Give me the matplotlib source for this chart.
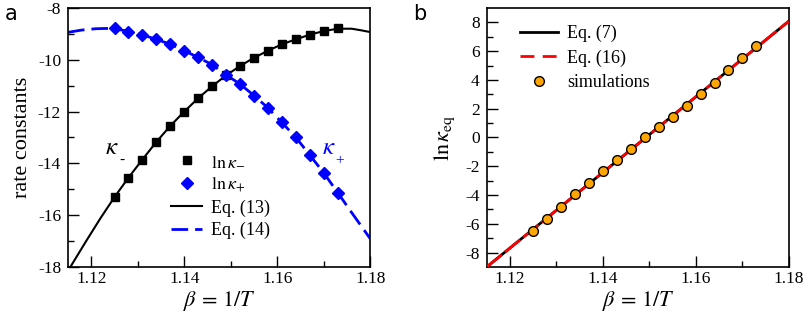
import matplotlib
matplotlib.use("Agg")
import matplotlib.pyplot as plt
from matplotlib.lines import Line2D

plt.rcParams['font.family'] = ['Liberation Serif', 'DejaVu Serif']
plt.rcParams['mathtext.fontset'] = 'stix'
plt.rcParams['axes.unicode_minus'] = False

# ---- data ----
beta_sim = [1.125, 1.128, 1.131, 1.134, 1.137, 1.140, 1.143, 1.146, 1.149,
            1.152, 1.155, 1.158, 1.161, 1.164, 1.167, 1.170, 1.173]
ln_kminus = [-15.30, -14.55, -13.85, -13.17, -12.55, -12.00, -11.48, -11.02, -10.60,
             -10.24, -9.92, -9.65, -9.40, -9.21, -9.03, -8.89, -8.77]
ln_kplus = [-8.76, -8.92, -9.04, -9.21, -9.40, -9.65, -9.91, -10.19, -10.58,
            -10.94, -11.38, -11.86, -12.42, -13.00, -13.68, -14.37, -15.13]

beta_eq13 = [1.1155, 1.119, 1.122, 1.125, 1.128, 1.131, 1.134, 1.137, 1.140, 1.143,
             1.146, 1.149, 1.152, 1.155, 1.158, 1.161, 1.164, 1.167, 1.170, 1.173,
             1.176, 1.178, 1.180]
eq13 = [-18.00, -16.97, -16.11, -15.30, -14.55, -13.85, -13.17, -12.55, -12.00, -11.48,
        -11.02, -10.60, -10.24, -9.92, -9.65, -9.40, -9.21, -9.03, -8.89, -8.80,
        -8.80, -8.86, -8.93]

beta_eq14 = [1.115, 1.118, 1.121, 1.123, 1.125, 1.128, 1.131, 1.134, 1.137, 1.140,
             1.143, 1.146, 1.149, 1.152, 1.155, 1.158, 1.161, 1.164, 1.167, 1.170,
             1.173, 1.176, 1.180]
eq14 = [-8.94, -8.85, -8.80, -8.79, -8.80, -8.90, -9.04, -9.21, -9.40, -9.65,
        -9.91, -10.19, -10.58, -10.94, -11.38, -11.86, -12.42, -13.00, -13.68, -14.37,
        -15.13, -15.90, -16.91]

ln_keq_sim = [-6.49, -5.63, -4.82, -3.96, -3.15, -2.34, -1.55, -0.79, 0.03,
              0.70, 1.42, 2.21, 2.99, 3.80, 4.66, 5.50, 6.36]
beta_line = [1.115, 1.180]
eq7 = [-9.00, 8.09]
eq16 = [-9.00, 8.09]

xticks = [1.12, 1.14, 1.16, 1.18]
yticks_a = [-18, -16, -14, -12, -10, -8]
yticks_b = [-8, -6, -4, -2, 0, 2, 4, 6, 8]

# ---- figure ----
fig = plt.figure(figsize=(8.06, 3.15), dpi=100)
axa = fig.add_axes([0.0844, 0.1524, 0.375, 0.8222])
axb = fig.add_axes([0.6038, 0.1524, 0.375, 0.8222])

tick_fs = 12.5
for ax in (axa, axb):
    ax.set_xlim(1.115, 1.18)
    ax.set_xticks(xticks)
    ax.set_xticks([1.13, 1.15, 1.17], minor=True)
    ax.set_xticklabels(['%.2f' % t for t in xticks])
    ax.tick_params(which='both', direction='in', top=False, right=False,
                   labelsize=tick_fs, width=1.0)
    ax.tick_params(axis='x', which='both', pad=3)
    ax.tick_params(axis='y', which='both', pad=5)
    ax.tick_params(which='major', length=8)
    ax.tick_params(which='minor', length=4)
    for s in ax.spines.values():
        s.set_linewidth(1.2)
    ax.set_xlabel(r'$\beta\,=\,1/T$', fontsize=16, labelpad=1)

# panel a
axa.plot(beta_eq13, eq13, color='black', lw=1.5, zorder=2)
axa.plot(beta_eq14, eq14, color='blue', lw=2.0, dashes=(6, 2.5), zorder=2)
axa.plot(beta_sim, ln_kminus, ls='none', marker='s', ms=6.0, color='black', zorder=3)
axa.plot(beta_sim, ln_kplus, ls='none', marker='D', ms=6.0, color='blue', zorder=3)
axa.set_ylim(-18, -8)
axa.set_yticks(yticks_a)
axa.set_yticks([-17, -15, -13, -11, -9], minor=True)
axa.set_yticklabels([str(t) for t in yticks_a])
axa.set_ylabel('rate constants', fontsize=16, labelpad=4)
axa.text(1.1245, -13.4, r'$\kappa$', fontsize=18, color='black', ha='center', va='center')
axa.text(1.1265, -13.9, '-', fontsize=11, color='black', ha='center', va='center')
axa.text(1.1711, -13.42, r'$\kappa$', fontsize=18, color='blue', ha='center', va='center')
axa.text(1.1733, -13.9, '+', fontsize=11, color='blue', ha='center', va='center')

ha = [Line2D([], [], ls='none', marker='s', ms=6.0, color='black'),
      Line2D([], [], ls='none', marker='D', ms=6.0, color='blue'),
      Line2D([], [], color='black', lw=1.5),
      Line2D([], [], color='blue', lw=2.0, dashes=(6, 2.5))]
la = [r'$\ln\kappa_{-}$', r'$\ln\kappa_{+}$', 'Eq. (13)', 'Eq. (14)']
axa.legend(ha, la, loc='upper left', bbox_to_anchor=(0.34, 0.44), frameon=False,
           fontsize=13, handlelength=1.75, handletextpad=0.5, labelspacing=0.3,
           borderpad=0, borderaxespad=0)

# panel b
axb.plot(beta_line, eq7, color='black', lw=2.0, zorder=2)
axb.plot(beta_line, eq16, color='red', lw=2.0, dashes=(7, 1.5), zorder=3)
axb.plot(beta_sim, ln_keq_sim, ls='none', marker='o', ms=7, mfc='#FFA500',
         mec='black', mew=1.0, zorder=4)
axb.set_ylim(-9, 9)
axb.set_yticks(yticks_b)
axb.set_yticks([-7, -5, -3, -1, 1, 3, 5, 7], minor=True)
axb.set_yticklabels([str(t) for t in yticks_b])
axb.set_ylabel(r'$\ln\kappa_{\mathrm{eq}}$', fontsize=16, labelpad=6)

hb = [Line2D([], [], color='black', lw=2.0),
      Line2D([], [], color='red', lw=2.0, dashes=(5, 3)),
      Line2D([], [], ls='none', marker='o', ms=7, mfc='#FFA500', mec='black', mew=1.0)]
lb = ['Eq. (7)', 'Eq. (16)', 'simulations']
axb.legend(hb, lb, loc='upper left', bbox_to_anchor=(0.11, 0.935), frameon=False,
           fontsize=13, handlelength=2.1, handletextpad=0.5, labelspacing=0.4,
           borderpad=0, borderaxespad=0)

fig.text(0.006, 0.955, 'a', fontsize=15, family='DejaVu Sans', va='center')
fig.text(0.512, 0.955, 'b', fontsize=15, family='DejaVu Sans', va='center')

fig.savefig('out.png', dpi=100)
